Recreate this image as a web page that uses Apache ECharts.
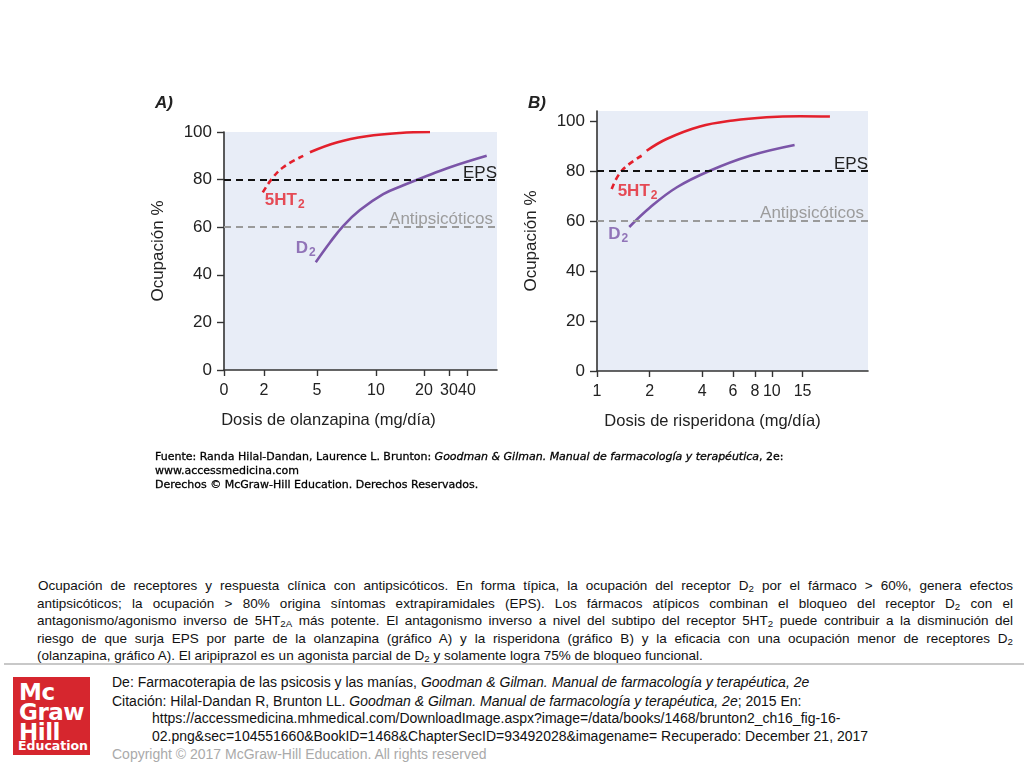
<!DOCTYPE html>
<html>
<head>
<meta charset="utf-8">
<script src="https://cdn.jsdelivr.net/npm/echarts@6/dist/echarts.min.js"></script>
<style>
  html, body { margin: 0; padding: 0; background: #fff; width: 1024px; height: 768px; overflow: hidden; position: relative; font-family: "Liberation Sans", Arial, sans-serif; }
  #chart { position: absolute; left: 0; top: 0; width: 1024px; height: 500px; }
  .src { position: absolute; left: 155px; top: 450px; font-family: "DejaVu Sans", Verdana, sans-serif; font-size: 11px; line-height: 14px; color: #000; -webkit-text-stroke: 0.3px #000; }
  .cap { position: absolute; left: 37px; top: 577px; width: 976px; font-size: 13.5px; line-height: 17.5px; color: #111; }
  .cap div { text-align: justify; text-align-last: justify; white-space: nowrap; }
  .cap div.first { padding-left: 1px; }
  .cap div.last { text-align-last: left; }
  sub { font-size: 0.72em; line-height: 0; vertical-align: -0.25em; }
  .sep { position: absolute; left: 4px; top: 663px; width: 1020px; height: 2px; background: #c8c8c8; }
  .logo { position: absolute; left: 13px; top: 677px; width: 77px; height: 78px; background: #d6262e; color: #fff; font-weight: bold; font-family: "DejaVu Sans", "Open Sans", sans-serif; }
  .logo div { position: absolute; left: 6px; }
  .foot { position: absolute; left: 112px; top: 674px; font-size: 14px; line-height: 17.7px; color: #111; }
  .foot .ind { padding-left: 40px; }
  .foot .copy { color: #aaa; }
</style>
</head>
<body>
<div id="chart"></div>
<div class="src">Fuente: Randa Hilal-Dandan, Laurence L. Brunton: <i>Goodman &amp; Gilman. Manual de farmacología y terapéutica</i>, 2e:<br>www.accessmedicina.com<br>Derechos © McGraw-Hill Education. Derechos Reservados.</div>
<div class="cap">
<div class="first">Ocupación de receptores y respuesta clínica con antipsicóticos. En forma típica, la ocupación del receptor D<sub>2</sub> por el fármaco &gt; 60%, genera efectos</div>
<div>antipsicóticos; la ocupación &gt; 80% origina síntomas extrapiramidales (EPS). Los fármacos atípicos combinan el bloqueo del receptor D<sub>2</sub> con el</div>
<div>antagonismo/agonismo inverso de 5HT<sub>2A</sub> más potente. El antagonismo inverso a nivel del subtipo del receptor 5HT<sub>2</sub> puede contribuir a la disminución del</div>
<div>riesgo de que surja EPS por parte de la olanzapina (gráfico A) y la risperidona (gráfico B) y la eficacia con una ocupación menor de receptores D<sub>2</sub></div>
<div class="last">(olanzapina, gráfico A). El aripiprazol es un agonista parcial de D<sub>2</sub> y solamente logra 75% de bloqueo funcional.</div>
</div>
<div class="sep"></div>
<div class="logo">
  <div style="top:2px;font-size:23px;letter-spacing:-0.5px;">Mc</div>
  <div style="top:22px;font-size:23px;letter-spacing:-0.5px;">Graw</div>
  <div style="top:42px;font-size:23px;letter-spacing:-0.5px;">Hill</div>
  <div style="top:61px;font-size:12.5px;left:5px;">Education</div>
</div>
<div class="foot">
  <div>De: Farmacoterapia de las psicosis y las manías, <i>Goodman &amp; Gilman. Manual de farmacología y terapéutica, 2e</i></div>
  <div style="margin-top:1px">Citación: Hilal-Dandan R, Brunton LL. <i>Goodman &amp; Gilman. Manual de farmacología y terapéutica, 2e</i>; 2015 En:</div>
  <div class="ind">https://accessmedicina.mhmedical.com/DownloadImage.aspx?image=/data/books/1468/brunton2_ch16_fig-16-</div>
  <div class="ind">02.png&amp;sec=104551660&amp;BookID=1468&amp;ChapterSecID=93492028&amp;imagename= Recuperado: December 21, 2017</div>
  <div class="copy">Copyright © 2017 McGraw-Hill Education. All rights reserved</div>
</div>
<script>
// ---------- Data ----------
// Panel A (olanzapine), dose mg/day vs occupancy %
const ticksA = [0, 2, 5, 10, 20, 30, 40];
const a5ht2DashedDose = [1.94, 2.44, 3.09, 4.22];
const a5ht2DashedOcc  = [74.6, 80.3, 85.2, 90.0];
const a5ht2SolidDose  = [4.6, 6.67, 9.21, 15, 22.4];
const a5ht2SolidOcc   = [91.5, 95.6, 98.2, 99.6, 100];
const aD2Dose = [4.93, 6.1, 7.23, 8.64, 11.5, 15.7, 19.9, 30.6, 56.4];
const aD2Occ  = [45.3, 53.6, 60.6, 67.2, 73.9, 77.6, 81.0, 85.2, 90.0];

// Panel B (risperidone), dose mg/day vs occupancy %
const ticksB = [1, 2, 4, 6, 8, 10, 15];
const b5ht2DashedDose = [1.213, 1.384, 1.8];
const b5ht2DashedOcc  = [72.8, 80.1, 86.1];
const b5ht2SolidDose  = [1.923, 2.5, 3.88, 6.0, 9.33, 14.5, 21.5];
const b5ht2SolidOcc   = [88.1, 92.8, 97.8, 100.2, 101.5, 101.9, 101.8];
const bD2Dose = [1.53, 2.01, 2.85, 4.42, 7.5, 13.5];
const bD2Occ  = [57.6, 65.4, 73.4, 80.1, 86.1, 90.4];

const yTicks = [0, 20, 40, 60, 80, 100];
const epsLevel = 80;
const antipsLevel = 60;

// ---------- Axis scales (panel A uses an irregular hand-drawn dose scale) ----------
const scaleADose = [0, 2, 5, 10, 20, 30, 40, 65];
const scaleAUnit = [0, 40, 93, 152, 200, 225, 243, 273];
function toA(d) {
  for (let i = 1; i < scaleADose.length; i++) {
    if (d <= scaleADose[i]) {
      const t = (d - scaleADose[i - 1]) / (scaleADose[i] - scaleADose[i - 1]);
      return scaleAUnit[i - 1] + t * (scaleAUnit[i] - scaleAUnit[i - 1]);
    }
  }
  return scaleAUnit[scaleAUnit.length - 1];
}
const toB = d => Math.log10(d);
const maxB = Math.log10(35.5);

const pairs = (xs, ys, f) => xs.map((x, i) => [f(x), ys[i]]);
function nearestLabel(v, ticks, f) {
  let best = 0, bd = Infinity;
  ticks.forEach((t, i) => { const dd = Math.abs(f(t) - v); if (dd < bd) { bd = dd; best = i; } });
  return String(ticks[best]);
}

// ---------- Styles ----------
const RED = '#e3202c', PURPLE = '#7b55a8', AXIS = '#333';
const FONT = 'Liberation Sans';

function xAxisCfg(idx, name, ticks, f, max, padRight) {
  return {
    gridIndex: idx, type: 'value', min: 0, max: max, name: name,
    nameLocation: 'middle', nameGap: 42,
    nameTextStyle: { fontFamily: FONT, fontSize: 16.5, color: '#222', padding: [0, padRight, 0, 0] },
    axisLine: { show: true, onZero: false, lineStyle: { color: AXIS, width: 1.6 } },
    axisTick: { show: true, length: 6, customValues: ticks.map(f), lineStyle: { color: AXIS, width: 1.4 } },
    axisLabel: { customValues: ticks.map(f), hideOverlap: false, margin: 13, fontFamily: FONT, fontSize: 16, color: '#222',
      formatter: v => nearestLabel(v, ticks, f) },
    splitLine: { show: false }
  };
}
function yAxisCfg(idx, max) {
  return {
    gridIndex: idx, type: 'value', min: 0, max: max, interval: 20,
    name: 'Ocupación %', nameLocation: 'middle', nameGap: 57, nameRotate: 90,
    nameTextStyle: { fontFamily: FONT, fontSize: 17, color: '#222' },
    axisLine: { show: true, lineStyle: { color: AXIS, width: 1.6 } },
    axisTick: { show: true, length: 7, customValues: yTicks, lineStyle: { color: AXIS, width: 1.4 } },
    axisLabel: { customValues: yTicks, margin: 12, fontFamily: FONT, fontSize: 17, color: '#222' },
    splitLine: { show: false }
  };
}
function refLines() {
  return {
    silent: true, symbol: 'none',
    data: [
      { yAxis: epsLevel, lineStyle: { color: '#111', type: [7, 5], width: 2 },
        label: { show: true, position: 'insideEndTop', formatter: 'EPS', color: '#222', fontFamily: FONT, fontSize: 17, distance: [0, -2] } },
      { yAxis: antipsLevel, lineStyle: { color: '#9a9a9a', type: [7, 5], width: 2 },
        label: { show: true, position: 'insideEndTop', formatter: 'Antipsicóticos', color: '#9c9c9c', fontFamily: FONT, fontSize: 17, distance: [4, -1] } }
    ]
  };
}
function curve(idx, data, color, dashed) {
  return {
    type: 'line', xAxisIndex: idx, yAxisIndex: idx, data: data, smooth: 0.4,
    showSymbol: false, symbol: 'none', silent: true,
    lineStyle: { color: color, width: 2.6, type: dashed ? [6, 4] : 'solid', cap: 'butt' }
  };
}
// name tag placed next to the first point of a curve
function tag(idx, point, text, color, pos, offset) {
  return {
    type: 'scatter', xAxisIndex: idx, yAxisIndex: idx, data: [point], symbol: 'circle', symbolSize: 2, silent: true,
    itemStyle: { color: 'rgba(0,0,0,0)' },
    label: {
      show: true, position: pos, offset: offset, formatter: text,
      rich: {
        b: { fontSize: 17, fontWeight: 'bold', fontFamily: FONT, color: color },
        s: { fontSize: 12, fontWeight: 'bold', fontFamily: FONT, color: color, padding: [9, 0, 0, 1] }
      }
    }
  };
}

const a5Dash = pairs(a5ht2DashedDose, a5ht2DashedOcc, toA);
const aD2 = pairs(aD2Dose, aD2Occ, toA);
const b5Dash = pairs(b5ht2DashedDose, b5ht2DashedOcc, toB);
const bD2 = pairs(bD2Dose, bD2Occ, toB);

const chart = echarts.init(document.getElementById('chart'), null, { renderer: 'canvas' });
chart.setOption({
  animation: false,
  backgroundColor: 'transparent',
  grid: [
    { left: 224, top: 132, width: 273, height: 238, show: true, backgroundColor: '#e8edf7', borderWidth: 0 },
    { left: 597, top: 111, width: 271, height: 260, show: true, backgroundColor: '#e8edf7', borderWidth: 0 }
  ],
  graphic: [
    { type: 'text', left: 155, top: 95, style: { text: 'A)', fontFamily: FONT, fontSize: 17, fontWeight: 'bold', fontStyle: 'italic', fill: '#222' } },
    { type: 'text', left: 528, top: 95, style: { text: 'B)', fontFamily: FONT, fontSize: 17, fontWeight: 'bold', fontStyle: 'italic', fill: '#222' } }
  ],
  xAxis: [
    xAxisCfg(0, 'Dosis de olanzapina (mg/día)', ticksA, toA, scaleAUnit[scaleAUnit.length - 1], 64),
    xAxisCfg(1, 'Dosis de risperidona (mg/día)', ticksB, toB, maxB, 40)
  ],
  yAxis: [yAxisCfg(0, 100), yAxisCfg(1, 104)],
  series: [
    Object.assign(curve(0, [], '#000', false), { markLine: refLines() }),
    curve(0, a5Dash, RED, true),
    curve(0, pairs(a5ht2SolidDose, a5ht2SolidOcc, toA), RED, false),
    curve(0, aD2, PURPLE, false),
    tag(0, a5Dash[0], '{b|5HT}{s|2}', RED, 'right', [-4, 8]),
    tag(0, aD2[0], '{b|D}{s|2}', PURPLE, 'left', [6, -14]),
    Object.assign(curve(1, [], '#000', false), { markLine: refLines() }),
    curve(1, b5Dash, RED, true),
    curve(1, pairs(b5ht2SolidDose, b5ht2SolidOcc, toB), RED, false),
    curve(1, bD2, PURPLE, false),
    tag(1, b5Dash[0], '{b|5HT}{s|2}', RED, 'right', [0, 2]),
    tag(1, bD2[0], '{b|D}{s|2}', PURPLE, 'left', [5, 7])
  ]
});
</script>
</body>
</html>
